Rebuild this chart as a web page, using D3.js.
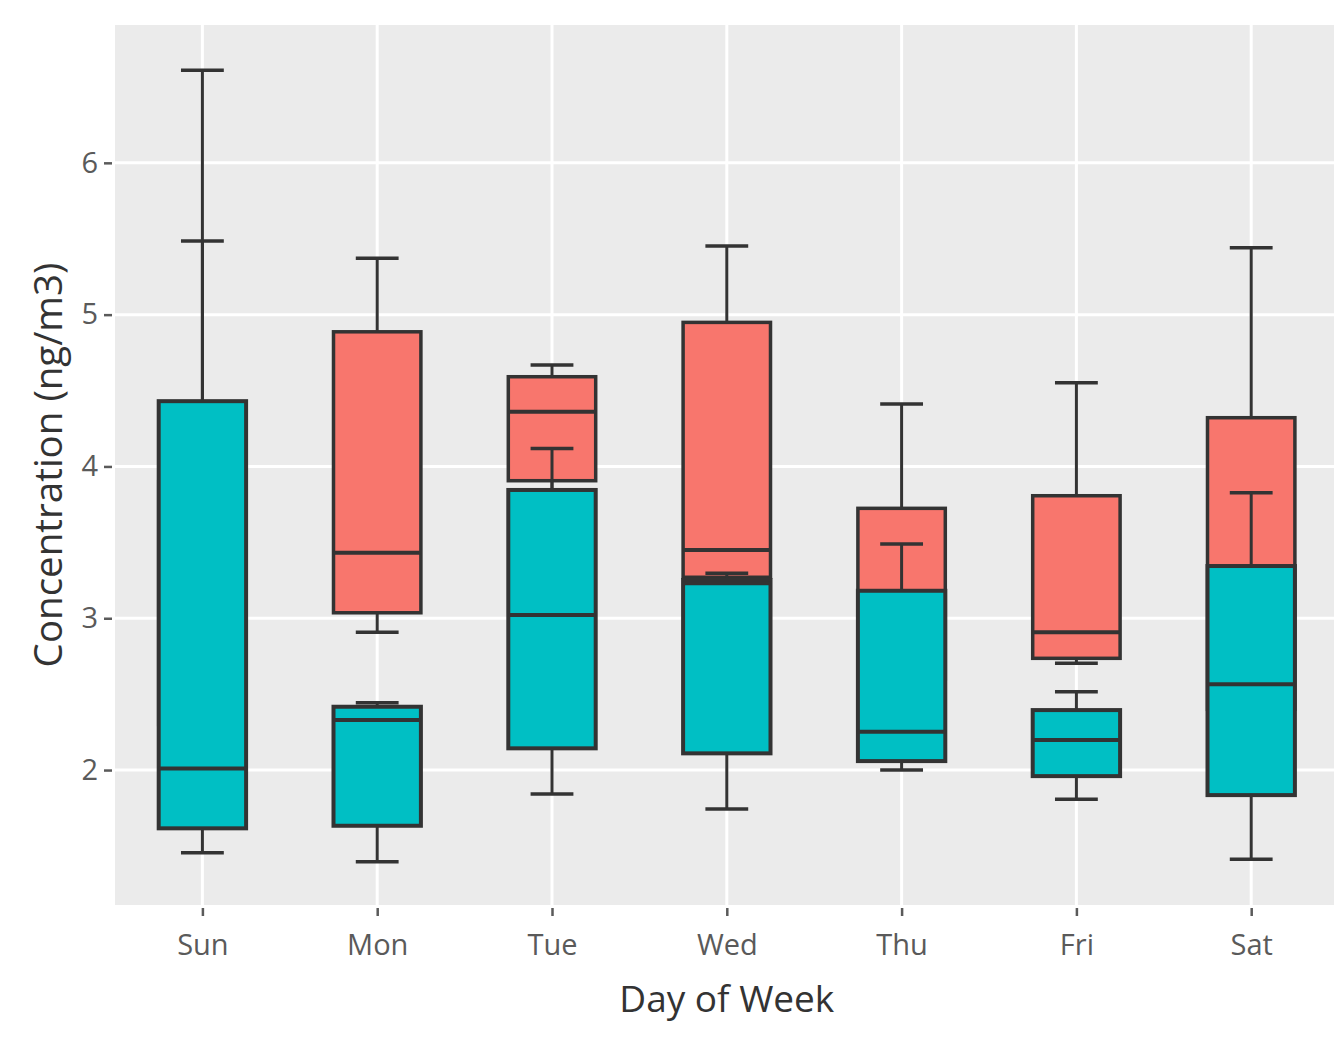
<!DOCTYPE html>
<html>
<head>
<meta charset="utf-8">
<script src="https://cdn.jsdelivr.net/npm/d3@7"></script>
<style>
  html, body { margin: 0; padding: 0; background: #ffffff; }
  svg { display: block; overflow: hidden; }
  text { font-family: "Open Sans", "Noto Sans", sans-serif; }
</style>
</head>
<body>
<svg id="chart" width="1334" height="1039"></svg>
<script>
// Weekday categories along the x axis
const days = ["Sun", "Mon", "Tue", "Wed", "Thu", "Fri", "Sat"];

// Five-number summaries per day: [lower whisker, Q1, median, Q3, upper whisker]
// Series A (salmon) is drawn first; series B (teal) is drawn over it.
const seriesA = [
  [1.80, 2.30, 3.00, 3.90, 5.485],
  [2.907, 3.036, 3.431, 4.887, 5.371],
  [3.30, 3.906, 4.36, 4.591, 4.668],
  [2.60, 3.27, 3.449, 4.949, 5.452],
  [2.30, 2.60, 3.05, 3.724, 4.411],
  [2.703, 2.736, 2.907, 3.807, 4.551],
  [2.00, 2.40, 3.10, 4.321, 5.441]
];
const seriesB = [
  [1.455, 1.616, 2.01, 4.43, 6.61],
  [1.396, 1.633, 2.33, 2.417, 2.443],
  [1.842, 2.143, 3.021, 3.845, 4.119],
  [1.743, 2.11, 3.23, 3.252, 3.296],
  [2.00, 2.059, 2.252, 3.181, 3.489],
  [1.807, 1.96, 2.198, 2.395, 2.516],
  [1.412, 1.835, 2.565, 3.344, 3.827]
];
const seriesColors = ["#F8766D", "#00BFC4"];

// Axis ticks and titles
const yTicks = [2, 3, 4, 5, 6];
const yDomain = [1.111, 6.908];
const xTitle = "Day of Week";
const yTitle = "Concentration (ng/m3)";

const svg = d3.select("#chart");
const panel = { left: 115, top: 25, right: 1338.6, bottom: 905 };

const x = d3.scalePoint()
  .domain(days)
  .range([panel.left, panel.right])
  .padding(0.5);
const step = x.step();

const y = d3.scaleLinear()
  .domain(yDomain)
  .range([panel.bottom, panel.top]);

// Panel background
svg.append("rect")
  .attr("x", panel.left)
  .attr("y", panel.top)
  .attr("width", panel.right - panel.left)
  .attr("height", panel.bottom - panel.top)
  .attr("fill", "#EBEBEB");

// Major gridlines
const grid = svg.append("g").attr("class", "grid");
grid.selectAll("line.h")
  .data(yTicks)
  .join("line")
  .attr("class", "h")
  .attr("x1", panel.left).attr("x2", panel.right)
  .attr("y1", d => y(d)).attr("y2", d => y(d))
  .attr("stroke", "#ffffff").attr("stroke-width", 3);
grid.selectAll("line.v")
  .data(days)
  .join("line")
  .attr("class", "v")
  .attr("y1", panel.top).attr("y2", panel.bottom)
  .attr("x1", d => x(d)).attr("x2", d => x(d))
  .attr("stroke", "#ffffff").attr("stroke-width", 3);

// Axes
const xAxis = svg.append("g")
  .attr("transform", `translate(0,${panel.bottom})`)
  .call(d3.axisBottom(x).tickSize(8).tickPadding(21));
const yAxis = svg.append("g")
  .attr("transform", `translate(${panel.left},0)`)
  .call(d3.axisLeft(y).tickValues(yTicks).tickFormat(d3.format("d")).tickSize(8).tickPadding(9));

[xAxis, yAxis].forEach(a => {
  a.select(".domain").remove();
  a.selectAll(".tick line").attr("stroke", "#5a5a5a").attr("stroke-width", 2.5);
  a.selectAll(".tick text")
    .attr("fill", "#5a5a5a")
    .style("font-size", "29px");
});
xAxis.selectAll(".tick line").attr("transform", "translate(0,3)");
yAxis.selectAll(".tick line").attr("transform", "translate(-3,0)");

// Axis titles
svg.append("text")
  .attr("x", (panel.left + panel.right) / 2)
  .attr("y", 1012)
  .attr("text-anchor", "middle")
  .attr("fill", "#333333")
  .style("font-size", "37px")
  .text(xTitle);

svg.append("text")
  .attr("transform", `translate(62,${(panel.top + panel.bottom) / 2}) rotate(-90)`)
  .attr("text-anchor", "middle")
  .attr("fill", "#333333")
  .style("font-size", "38.5px")
  .text(yTitle);

// Box plots
const boxW = step * 0.5;
const capW = step * 0.245;
const ink = "#333333";

function drawSeries(values, color, outline) {
  const g = svg.append("g");
  const groups = g.selectAll("g.box")
    .data(days.map((d, i) => ({ day: d, s: values[i] })))
    .join("g")
    .attr("class", "box");

  // whiskers
  groups.append("line")
    .attr("x1", d => x(d.day)).attr("x2", d => x(d.day))
    .attr("y1", d => y(d.s[3])).attr("y2", d => y(d.s[4]))
    .attr("stroke", ink).attr("stroke-width", 3);
  groups.append("line")
    .attr("x1", d => x(d.day)).attr("x2", d => x(d.day))
    .attr("y1", d => y(d.s[1])).attr("y2", d => y(d.s[0]))
    .attr("stroke", ink).attr("stroke-width", 3);
  // caps
  [0, 4].forEach(k => {
    groups.append("line")
      .attr("x1", d => x(d.day) - capW / 2).attr("x2", d => x(d.day) + capW / 2)
      .attr("y1", d => y(d.s[k])).attr("y2", d => y(d.s[k]))
      .attr("stroke", ink).attr("stroke-width", 3.5);
  });
  // box
  groups.append("rect")
    .attr("x", d => x(d.day) - boxW / 2)
    .attr("width", boxW)
    .attr("y", d => y(d.s[3]))
    .attr("height", d => y(d.s[1]) - y(d.s[3]))
    .attr("fill", color)
    .attr("stroke", ink).attr("stroke-width", outline);
  // median
  groups.append("line")
    .attr("x1", d => x(d.day) - boxW / 2).attr("x2", d => x(d.day) + boxW / 2)
    .attr("y1", d => y(d.s[2])).attr("y2", d => y(d.s[2]))
    .attr("stroke", ink).attr("stroke-width", 4);
}

drawSeries(seriesA, seriesColors[0], 3.5);
drawSeries(seriesB, seriesColors[1], 4);
</script>
</body>
</html>
